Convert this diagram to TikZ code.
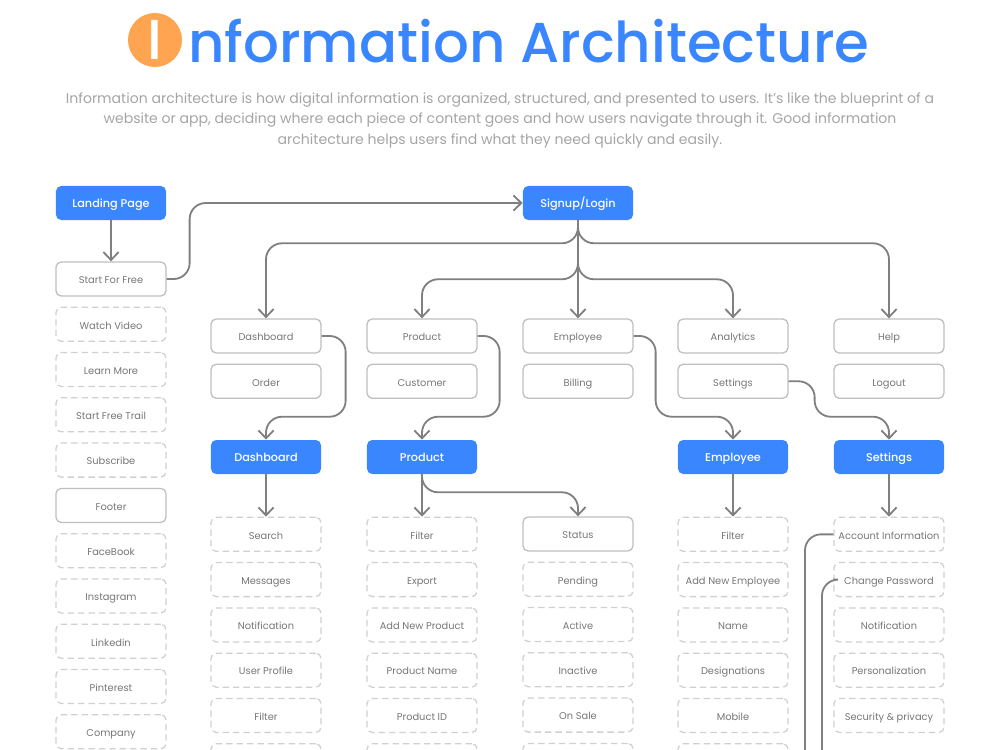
\documentclass[tikz,border=0pt]{standalone}
\usepackage{fontspec}
\setmainfont{Poppins}
\newfontfamily\medfont{Poppins Medium}
\usepackage{xcolor}
\usetikzlibrary{arrows.meta, positioning, calc}
\definecolor{iablue}{RGB}{58,134,255}
\definecolor{iaorange}{RGB}{255,165,82}
\definecolor{iasub}{RGB}{165,165,165}
\definecolor{iatext}{RGB}{118,118,118}
\definecolor{iaborder}{RGB}{190,190,190}
\definecolor{iadash}{RGB}{208,208,208}
\definecolor{ialine}{RGB}{128,128,128}
\tikzset{
  head/.style={rectangle, rounded corners=1.3mm, fill=iablue, text=white, minimum width=2.75cm, minimum height=0.85cm, inner sep=1pt, text height=1.7ex, text depth=0.45ex, font=\medfont\fontsize{8}{9}\selectfont},
  page/.style={rectangle, rounded corners=1.3mm, draw=iaborder, line width=0.9pt, text=iatext, minimum width=2.75cm, minimum height=0.85cm, inner sep=1pt, text height=1.7ex, text depth=0.45ex, font=\fontsize{7}{8}\selectfont},
  item/.style={page, draw=iadash, dash pattern=on 1.6mm off 1mm},
  arrow/.style={-{Straight Barb[length=2mm, width=3.8mm]}, line width=1.3pt, draw=ialine, rounded corners=4mm},
  link/.style={line width=1.3pt, draw=ialine, rounded corners=4mm},
}

\begin{document}
\begin{tikzpicture}[x=0.025cm, y=-0.025cm, node distance=0.25cm]
\clip (0,0) rectangle (1000,750);
% title and intro
\node[circle, fill=iaorange, minimum size=1.35cm, inner sep=0pt, text=white, font=\medfont\fontsize{40}{40}\selectfont] (badge) at (155,40) {I};
\node[anchor=base west, inner sep=0pt, text=iablue, font=\medfont\fontsize{40}{40}\selectfont] (title) at (188,62) {nformation Architecture};
\node[align=center, text=iasub, font=\fontsize{10}{14.6}\selectfont] (intro) at (500,120) {Information architecture is how digital information is organized, structured, and presented to users. It's like the blueprint of a\\
  website or app, deciding where each piece of content goes and how users navigate through it. Good information\\
  architecture helps users find what they need quickly and easily.};

% left column
\node[head] (landing) at (111,203) {Landing Page};
\node[head] (signup) at (578,203) {Signup/Login};
\node[page] (start) at (111,279) {Start For Free};
\node[item, below=of start] (watch) {Watch Video};
\node[item, below=of watch] (learn) {Learn More};
\node[item, below=of learn] (trail) {Start Free Trail};
\node[item, below=of trail] (subscribe) {Subscribe};
\node[page, below=of subscribe] (footer) {Footer};
\node[item, below=of footer] (facebook) {FaceBook};
\node[item, below=of facebook] (instagram) {Instagram};
\node[item, below=of instagram] (linkedin) {Linkedin};
\node[item, below=of linkedin] (pinterest) {Pinterest};
\node[item, below=of pinterest] (company) {Company};

% main pages
\node[page] (dash1) at (266,336) {Dashboard};
\node[page] (prod1) at (422,336) {Product};
\node[page] (emp1) at (578,336) {Employee};
\node[page] (analytics) at (733,336) {Analytics};
\node[page] (help) at (889,336) {Help};
\node[page, below=of dash1] (order) {Order};
\node[page, below=of prod1] (customer) {Customer};
\node[page, below=of emp1] (billing) {Billing};
\node[page, below=of analytics] (settings1) {Settings};
\node[page, below=of help] (logout) {Logout};

% section heads
\node[head] (dashhead) at (266,457) {Dashboard};
\node[head] (prodhead) at (422,457) {Product};
\node[head] (emphead) at (733,457) {Employee};
\node[head] (sethead) at (889,457) {Settings};

% dashboard list
\node[item, below=1.06cm of dashhead] (search) {Search};
\node[item, below=of search] (messages) {Messages};
\node[item, below=of messages] (dnotif) {Notification};
\node[item, below=of dnotif] (profile) {User Profile};
\node[item, below=of profile] (dfilter) {Filter};
\node[item, below=of dfilter] (dmore) {};

% product list
\node[item, below=1.06cm of prodhead] (pfilter) {Filter};
\node[item, below=of pfilter] (export) {Export};
\node[item, below=of export] (addprod) {Add New Product};
\node[item, below=of addprod] (pname) {Product Name};
\node[item, below=of pname] (pid) {Product ID};
\node[item, below=of pid] (pmore) {};

% status list
\node[page] (status) at (578,534) {Status};
\node[item, below=of status] (pending) {Pending};
\node[item, below=of pending] (active) {Active};
\node[item, below=of active] (inactive) {Inactive};
\node[item, below=of inactive] (onsale) {On Sale};
\node[item, below=of onsale] (smore) {};

% employee list
\node[item, below=1.06cm of emphead] (efilter) {Filter};
\node[item, below=of efilter] (addemp) {Add New Employee};
\node[item, below=of addemp] (ename) {Name};
\node[item, below=of ename] (desig) {Designations};
\node[item, below=of desig] (mobile) {Mobile};
\node[item, below=of mobile] (emore) {};

% settings list
\node[item, below=1.06cm of sethead] (account) {Account Information};
\node[item, below=of account] (password) {Change Password};
\node[item, below=of password] (snotif) {Notification};
\node[item, below=of snotif] (personal) {Personalization};
\node[item, below=of personal] (security) {Security \& privacy};

% connectors
\draw[arrow] (landing) -- (start);
\draw[arrow] (start.east) -- ++(23,0) |- (signup.west);
\draw[arrow] (signup.south) -- ++(0,23) -| (dash1.north);
\draw[arrow] (signup.south) -- ++(0,23) -| (help.north);
\draw[arrow] (signup.south) -- ++(0,59) -| (prod1.north);
\draw[arrow] (signup.south) -- ++(0,59) -| (analytics.north);
\draw[arrow] (signup) -- (emp1);
\draw[arrow] (dash1.east) -- ++(24,0) |- ($(dashhead.north)+(0,-23)$) -- (dashhead.north);
\draw[arrow] (prod1.east) -- ++(22,0) |- ($(prodhead.north)+(0,-23)$) -- (prodhead.north);
\draw[arrow] (emp1.east) -- ++(22,0) |- ($(emphead.north)+(0,-23)$) -- (emphead.north);
\draw[arrow] (settings1.east) -- ++(26,0) |- ($(sethead.north)+(0,-23)$) -- (sethead.north);
\draw[arrow] (dashhead) -- (search);
\draw[arrow] (prodhead) -- (pfilter);
\draw[arrow] (prodhead.south) -- ++(0,18) -| (status.north);
\draw[arrow] (emphead) -- (efilter);
\draw[arrow] (sethead) -- (account);
\coordinate (accend) at (805,790);
\coordinate (pwdend) at (822,790);
\draw[link] (account.west) -| (accend);
\draw[link] (password.west) -| (pwdend);
\end{tikzpicture}
\end{document}
